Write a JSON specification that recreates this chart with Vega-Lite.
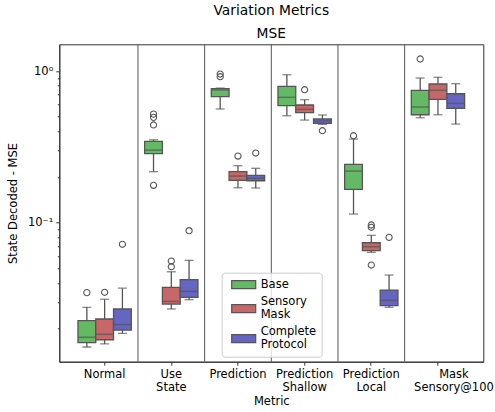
{
  "$schema": "https://vega.github.io/schema/vega-lite/v6.json",
  "width": 424,
  "height": 317.4,
  "autosize": {"type": "none"},
  "padding": {"left": 59.3, "top": 44.3, "right": 11.7, "bottom": 50.3},
  "title": {
    "text": "Variation Metrics",
    "subtitle": "MSE",
    "anchor": "middle",
    "font": "DejaVu Sans",
    "subtitleFont": "DejaVu Sans",
    "fontSize": 13.8,
    "subtitleFontSize": 13.8,
    "fontWeight": "normal",
    "color": "black",
    "subtitleColor": "black",
    "subtitlePadding": 9,
    "offset": 3
  },
  "datasets": {
    "boxes": [
      {"metric": "Normal", "group": "Base", "lower": 0.01516, "q1": 0.01618, "median": 0.01757, "q3": 0.0226, "upper": 0.0277},
      {"metric": "Normal", "group": "Sensory Mask", "lower": 0.0159, "q1": 0.01693, "median": 0.01837, "q3": 0.0232, "upper": 0.0313},
      {"metric": "Normal", "group": "Complete Protocol", "lower": 0.01866, "q1": 0.0196, "median": 0.0213, "q3": 0.027, "upper": 0.037},
      {"metric": "Use State", "group": "Base", "lower": 0.217, "q1": 0.285, "median": 0.301, "q3": 0.344, "upper": 0.352},
      {"metric": "Use State", "group": "Sensory Mask", "lower": 0.027, "q1": 0.0291, "median": 0.0303, "q3": 0.0375, "upper": 0.0475},
      {"metric": "Use State", "group": "Complete Protocol", "lower": 0.0311, "q1": 0.0322, "median": 0.0353, "q3": 0.0421, "upper": 0.0565},
      {"metric": "Prediction", "group": "Base", "lower": 0.562, "q1": 0.677, "median": 0.75, "q3": 0.765, "upper": 0.772},
      {"metric": "Prediction", "group": "Sensory Mask", "lower": 0.17, "q1": 0.19, "median": 0.203, "q3": 0.217, "upper": 0.2375},
      {"metric": "Prediction", "group": "Complete Protocol", "lower": 0.1694, "q1": 0.1891, "median": 0.1962, "q3": 0.2053, "upper": 0.2284},
      {"metric": "Prediction Shallow", "group": "Base", "lower": 0.507, "q1": 0.591, "median": 0.671, "q3": 0.793, "upper": 0.945},
      {"metric": "Prediction Shallow", "group": "Sensory Mask", "lower": 0.475, "q1": 0.531, "median": 0.559, "q3": 0.597, "upper": 0.647},
      {"metric": "Prediction Shallow", "group": "Complete Protocol", "lower": 0.445, "q1": 0.452, "median": 0.468, "q3": 0.483, "upper": 0.513},
      {"metric": "Prediction Local", "group": "Base", "lower": 0.1141, "q1": 0.166, "median": 0.219, "q3": 0.2426, "upper": 0.356},
      {"metric": "Prediction Local", "group": "Sensory Mask", "lower": 0.0638, "q1": 0.0654, "median": 0.0695, "q3": 0.0738, "upper": 0.0826},
      {"metric": "Prediction Local", "group": "Complete Protocol", "lower": 0.0277, "q1": 0.0284, "median": 0.0308, "q3": 0.036, "upper": 0.0452},
      {"metric": "Mask Sensory@100", "group": "Base", "lower": 0.492, "q1": 0.515, "median": 0.579, "q3": 0.746, "upper": 0.899},
      {"metric": "Mask Sensory@100", "group": "Sensory Mask", "lower": 0.515, "q1": 0.651, "median": 0.746, "q3": 0.821, "upper": 0.909},
      {"metric": "Mask Sensory@100", "group": "Complete Protocol", "lower": 0.447, "q1": 0.567, "median": 0.612, "q3": 0.708, "upper": 0.825}
    ],
    "outliers": [
      {"metric": "Normal", "group": "Base", "value": 0.0346},
      {"metric": "Normal", "group": "Sensory Mask", "value": 0.0348},
      {"metric": "Normal", "group": "Complete Protocol", "value": 0.0721},
      {"metric": "Use State", "group": "Base", "value": 0.52},
      {"metric": "Use State", "group": "Base", "value": 0.495},
      {"metric": "Use State", "group": "Base", "value": 0.441},
      {"metric": "Use State", "group": "Base", "value": 0.1764},
      {"metric": "Use State", "group": "Sensory Mask", "value": 0.0559},
      {"metric": "Use State", "group": "Sensory Mask", "value": 0.0513},
      {"metric": "Use State", "group": "Complete Protocol", "value": 0.0886},
      {"metric": "Prediction", "group": "Base", "value": 0.955},
      {"metric": "Prediction", "group": "Base", "value": 0.917},
      {"metric": "Prediction", "group": "Sensory Mask", "value": 0.275},
      {"metric": "Prediction", "group": "Complete Protocol", "value": 0.288},
      {"metric": "Prediction Shallow", "group": "Sensory Mask", "value": 0.753},
      {"metric": "Prediction Shallow", "group": "Complete Protocol", "value": 0.404},
      {"metric": "Prediction Local", "group": "Base", "value": 0.3746},
      {"metric": "Prediction Local", "group": "Sensory Mask", "value": 0.0966},
      {"metric": "Prediction Local", "group": "Sensory Mask", "value": 0.0933},
      {"metric": "Prediction Local", "group": "Sensory Mask", "value": 0.0526},
      {"metric": "Prediction Local", "group": "Complete Protocol", "value": 0.0801},
      {"metric": "Mask Sensory@100", "group": "Base", "value": 1.2}
    ],
    "seps": [
      {"metric": "Normal"},
      {"metric": "Use State"},
      {"metric": "Prediction"},
      {"metric": "Prediction Shallow"},
      {"metric": "Prediction Local"}
    ]
  },
  "encoding": {
    "x": {
      "field": "metric",
      "type": "nominal",
      "scale": {
        "domain": ["Normal", "Use State", "Prediction", "Prediction Shallow", "Prediction Local", "Mask Sensory@100"],
        "paddingInner": 0,
        "paddingOuter": 0.18
      },
      "axis": {
        "title": "Metric",
        "labelAngle": 0,
        "labelExpr": "split(datum.label, ' ')",
        "labelBaseline": "top",
        "labelPadding": 3,
        "labelOverlap": false,
        "labelOffset": {"condition": {"test": "datum.value == 'Mask Sensory@100'", "value": 16}, "value": 0},
        "titlePadding": 2,
        "encode": {
          "ticks": {
            "update": {
              "x": {"signal": "scale('x', datum.value) + bandwidth('x') / 2 + (datum.value == 'Mask Sensory@100' ? 16 : 0)"}
            }
          }
        }
      }
    }
  },
  "layer": [
    {
      "data": {"name": "seps"},
      "mark": {"type": "rule", "color": "#555", "strokeWidth": 1},
      "encoding": {
        "x": {"field": "metric", "type": "nominal", "bandPosition": 1}
      }
    },
    {
      "data": {"name": "boxes"},
      "mark": {"type": "rule", "color": "#555", "strokeWidth": 1.3},
      "encoding": {
        "xOffset": {"field": "group", "type": "nominal", "scale": {"domain": ["Base", "Sensory Mask", "Complete Protocol"], "paddingInner": 0, "paddingOuter": 0.375}},
        "y": {
          "field": "lower",
          "type": "quantitative",
          "title": "State Decoded - MSE",
          "scale": {"type": "log", "domain": [0.01213, 1.5], "nice": false},
          "axis": {
            "values": [0.02, 0.03, 0.04, 0.05, 0.06, 0.07, 0.08, 0.09, 0.1, 0.2, 0.3, 0.4, 0.5, 0.6, 0.7, 0.8, 0.9, 1],
            "labelExpr": "datum.value == 1 ? '10\u2070' : (datum.value == 0.1 ? '10\u207b\u00b9' : '')",
            "tickSize": {"condition": {"test": "datum.value == 1 || datum.value == 0.1", "value": 3.5}, "value": 2},
            "labelPadding": 3,
            "labelOverlap": false,
            "labelFlush": false,
            "titlePadding": 9
          }
        },
        "y2": {"field": "upper"}
      }
    },
    {
      "data": {"name": "boxes"},
      "mark": {"type": "tick", "color": "#555", "size": 9, "thickness": 1.3, "orient": "horizontal"},
      "encoding": {
        "xOffset": {"field": "group", "type": "nominal"},
        "y": {"field": "lower", "type": "quantitative", "title": "State Decoded - MSE", "scale": {"type": "log"}}
      }
    },
    {
      "data": {"name": "boxes"},
      "mark": {"type": "tick", "color": "#555", "size": 9, "thickness": 1.3, "orient": "horizontal"},
      "encoding": {
        "xOffset": {"field": "group", "type": "nominal"},
        "y": {"field": "upper", "type": "quantitative", "title": "State Decoded - MSE", "scale": {"type": "log"}}
      }
    },
    {
      "data": {"name": "boxes"},
      "mark": {"type": "bar", "stroke": "#555", "strokeWidth": 1.3},
      "encoding": {
        "xOffset": {"field": "group", "type": "nominal"},
        "y": {"field": "q1", "type": "quantitative", "title": "State Decoded - MSE", "scale": {"type": "log"}},
        "y2": {"field": "q3"},
        "fill": {
          "field": "group",
          "type": "nominal",
          "scale": {"domain": ["Base", "Sensory Mask", "Complete Protocol"], "range": ["#64b964", "#c86767", "#6565c3"]},
          "legend": {
            "title": null,
            "orient": "none",
            "legendX": 162.4,
            "legendY": 228.4,
            "labelExpr": "split(datum.label, ' ')",
            "labelFont": "DejaVu Sans",
            "labelFontSize": 11.5,
            "labelColor": "black",
            "labelOffset": 10,
            "symbolOffset": 10,
            "symbolType": "M-2,-0.667H2V0.667H-2Z",
            "symbolSize": 144,
            "symbolStrokeColor": "#555",
            "symbolStrokeWidth": 1.2,
            "fillColor": "rgba(255,255,255,0.8)",
            "strokeColor": "#cccccc",
            "cornerRadius": 3,
            "padding": 5,
            "rowPadding": 4,
            "encode": {
              "labels": {
                "update": {
                  "dy": {"signal": "datum.value == 'Base' ? 0 : -6.75"}
                }
              }
            }
          }
        }
      }
    },
    {
      "data": {"name": "boxes"},
      "mark": {"type": "tick", "color": "#555", "size": 17.8, "thickness": 1.5, "orient": "horizontal"},
      "encoding": {
        "xOffset": {"field": "group", "type": "nominal"},
        "y": {"field": "median", "type": "quantitative", "title": "State Decoded - MSE", "scale": {"type": "log"}}
      }
    },
    {
      "data": {"name": "outliers"},
      "mark": {"type": "point", "filled": false, "stroke": "#555", "strokeWidth": 1.1, "size": 38, "opacity": 1},
      "encoding": {
        "xOffset": {"field": "group", "type": "nominal"},
        "y": {"field": "value", "type": "quantitative", "title": "State Decoded - MSE", "scale": {"type": "log"}}
      }
    }
  ],
  "config": {
    "font": "DejaVu Sans",
    "view": {"stroke": "#333", "strokeWidth": 1},
    "axis": {
      "grid": false,
      "labelFont": "DejaVu Sans",
      "titleFont": "DejaVu Sans",
      "labelFontSize": 11.5,
      "titleFontSize": 11.5,
      "titleFontWeight": "normal",
      "labelColor": "black",
      "titleColor": "black",
      "domainColor": "#333",
      "tickColor": "#333",
      "tickSize": 3.5,
      "labelLineHeight": 13.5
    }
  }
}
